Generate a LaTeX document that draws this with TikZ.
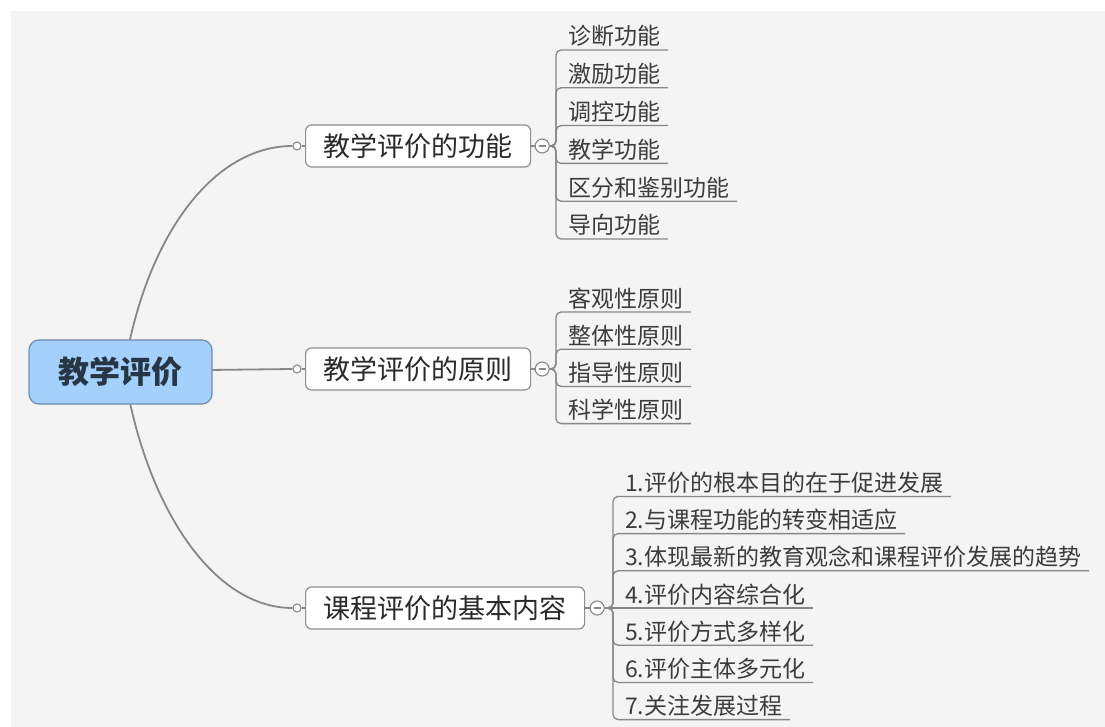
\documentclass[tikz,border=0pt]{standalone}
\usepackage{fontspec}
\setmainfont{Noto Sans CJK SC}
\definecolor{bg}{HTML}{F4F4F4}
\definecolor{rootfill}{HTML}{A3D0FD}
\definecolor{rootdraw}{HTML}{6F8DAD}
\definecolor{roottxt}{HTML}{263645}
\definecolor{linegray}{HTML}{878787}
\definecolor{boxdraw}{HTML}{8E8E8E}
\definecolor{txt}{HTML}{2A2A2A}
\definecolor{leaftxt}{HTML}{3C3C3C}
\tikzset{
  rootbox/.style={draw=rootdraw, line width=1.2pt, fill=rootfill, rounded corners=10pt,
    minimum width=183pt, minimum height=64pt, inner sep=0pt, text=roottxt,
    font=\fontsize{31}{34}\selectfont\bfseries},
  topicbox/.style={draw=boxdraw, line width=1.2pt, fill=white, rounded corners=6pt,
    anchor=west, minimum height=42pt, inner xsep=18pt, inner ysep=0pt, text=txt,
    font=\fontsize{27}{30}\selectfont},
  knob/.style={circle, draw=linegray, line width=1.1pt, fill=white, minimum size=8pt, inner sep=0pt},
  fold/.style={circle, draw=linegray, line width=1.1pt, fill=white, minimum size=14pt, inner sep=0pt,
    path picture={\draw[linegray, line width=1.3pt]
      ([xshift=-3.5pt]path picture bounding box.center) -- ([xshift=3.5pt]path picture bounding box.center);}},
  leaf/.style={anchor=south west, inner xsep=8pt, inner ysep=0pt, outer sep=0pt,
    text height=18pt, text depth=5pt, text=leaftxt, font=\fontsize{23}{26}\selectfont},
  mainline/.style={draw=linegray, line width=1.8pt},
  brk/.style={draw=linegray, line width=1.3pt, rounded corners=5pt},
  shortline/.style={draw=linegray, line width=1.3pt}
}
\begin{document}
\begin{tikzpicture}[x=1pt,y=-1pt]
\useasboundingbox (0,0) rectangle (1105,727);
\fill[white] (0,0) rectangle (1105,727);
\fill[bg] (11,11) rectangle (1105,727);

% topics
\node[topicbox] (t1) at (305,146) {教学评价的功能};
\node[topicbox] (t2) at (305,369) {教学评价的原则};
\node[topicbox] (t3) at (305,608) {课程评价的基本内容};

\node[knob] (c1) at (297,146) {};
\node[knob] (c2) at (297,369) {};
\node[knob] (c3) at (297,608) {};
\draw[shortline] (c1.east) -- (t1.west);
\draw[shortline] (c2.east) -- (t2.west);
\draw[shortline] (c3.east) -- (t3.west);

\node[fold] (m1) at ([xshift=11pt]t1.east) {};
\node[fold] (m2) at ([xshift=11pt]t2.east) {};
\node[fold] (m3) at ([xshift=12pt]t3.east) {};
\draw[shortline] (t1.east) -- (m1.west);
\draw[shortline] (t2.east) -- (m2.west);
\draw[shortline] (t3.east) -- (m3.west);

% main connectors
\coordinate (rc) at (124,371);
\draw[mainline] (rc) .. controls (145,238) and (212,146) .. (c1.west);
\draw[mainline] (rc) -- (c2.west);
\draw[mainline] (rc) .. controls (145,505) and (212,608) .. (c3.west);

\node[rootbox] (root) at (120.5,372) {教学评价};

% bracket columns
\coordinate (b1) at (556,146);
\coordinate (b2) at (556,369);
\coordinate (b3) at (613,608);

% leaves of topic 1
\node[leaf] (k11) at (560,50)    {诊断功能};
\node[leaf] (k12) at (560,87.8)  {激励功能};
\node[leaf] (k13) at (560,125.6) {调控功能};
\node[leaf] (k14) at (560,163.4) {教学功能};
\node[leaf] (k15) at (560,201.2) {区分和鉴别功能};
\node[leaf] (k16) at (560,239)   {导向功能};
\foreach \k in {k11,k12,k13,k14,k15,k16}
  \draw[brk] (m1.east) -- (m1.east -| b1) |- (\k.south east);

% leaves of topic 2
\node[leaf] (k21) at (560,312)   {客观性原则};
\node[leaf] (k22) at (560,349.2) {整体性原则};
\node[leaf] (k23) at (560,386.4) {指导性原则};
\node[leaf] (k24) at (560,423.6) {科学性原则};
\foreach \k in {k21,k22,k23,k24}
  \draw[brk] (m2.east) -- (m2.east -| b2) |- (\k.south east);

% leaves of topic 3
\node[leaf] (k31) at (617,496.4) {1.评价的根本目的在于促进发展};
\node[leaf] (k32) at (617,533.6) {2.与课程功能的转变相适应};
\node[leaf] (k33) at (617,570.8) {3.体现最新的教育观念和课程评价发展的趋势};
\node[leaf] (k34) at (617,608)   {4.评价内容综合化};
\node[leaf] (k35) at (617,645.2) {5.评价方式多样化};
\node[leaf] (k36) at (617,682.4) {6.评价主体多元化};
\node[leaf] (k37) at (617,719.6) {7.关注发展过程};
\foreach \k in {k31,k32,k33,k35,k36,k37}
  \draw[brk] (m3.east) -- (m3.east -| b3) |- (\k.south east);
\draw[shortline] (m3.east) -- (k34.south east);
\end{tikzpicture}
\end{document}
